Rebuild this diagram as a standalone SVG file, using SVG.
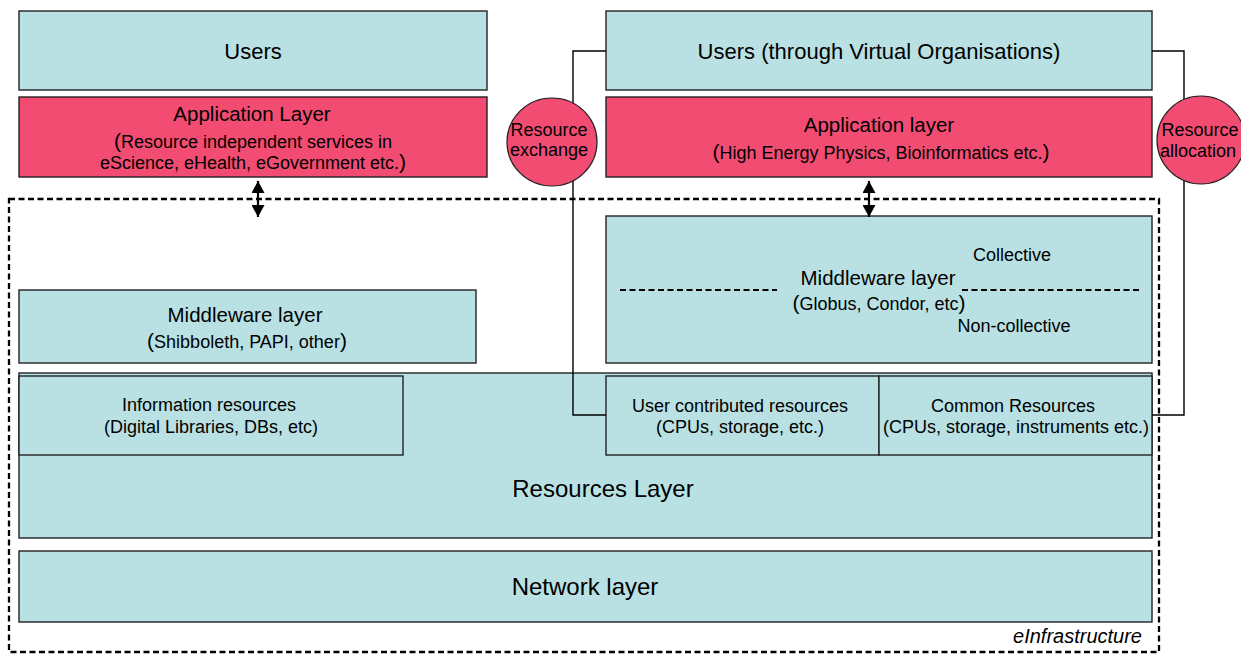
<svg xmlns="http://www.w3.org/2000/svg" width="1241" height="654" viewBox="0 0 1241 654">
  <style>
    .layer { fill: #B9E0E3; stroke: #222; stroke-width: 1.4; }
    .app { fill: #F34C73; stroke: #222; stroke-width: 1.4; }
    .bubble { fill: #F34C73; stroke: #222; stroke-width: 1.2; }
    .wire { fill: none; stroke: #000; stroke-width: 1.4; }
    .arrow { stroke: #000; stroke-width: 2.2; marker-start: url(#head); marker-end: url(#head); }
    .split { stroke: #000; stroke-width: 2.2; stroke-dasharray: 6 3.5; }
    .frame { fill: none; stroke: #000; stroke-width: 2.3; stroke-dasharray: 6 3.5; }
    text { font-family: "Liberation Sans", Arial, sans-serif; fill: #000; text-anchor: middle; }
    .t22 { font-size: 22px; }
    .t20 { font-size: 20.5px; }
    .t24 { font-size: 24px; }
    .t18 { font-size: 18px; }
    .p { font-size: 21px; }
    .tag { font-size: 20px; font-style: italic; text-anchor: end; }
  </style>
  <defs>
    <marker id="head" viewBox="0 0 10 10" refX="10" refY="5" markerWidth="12" markerHeight="13" markerUnits="userSpaceOnUse" orient="auto-start-reverse" preserveAspectRatio="none">
      <path d="M0,0 L10,5 L0,10 z" fill="#000"/>
    </marker>
  </defs>

  <!-- eInfrastructure boundary -->
  <g id="einfrastructure">
    <rect class="frame" x="9" y="199" width="1150" height="453"/>
    <text class="tag" x="1142" y="643">eInfrastructure</text>
  </g>

  <!-- left stack -->
  <g id="users">
    <rect class="layer" x="19" y="11" width="468" height="79"/>
    <text class="t22" x="253" y="59">Users</text>
  </g>
  <g id="application-layer">
    <rect class="app" x="19" y="97" width="468" height="80"/>
    <text class="t20" x="252" y="121">Application Layer</text>
    <text class="t18" x="253" y="148"><tspan class="p">(</tspan>Resource independent services in</text>
    <text class="t18" x="253" y="169">eScience, eHealth, eGovernment etc.<tspan class="p">)</tspan></text>
  </g>
  <g id="middleware-left">
    <rect class="layer" x="19" y="290" width="457" height="73"/>
    <text class="t20" x="245" y="322">Middleware layer</text>
    <text class="t18" x="247" y="348"><tspan class="p">(</tspan>Shibboleth, PAPI, other<tspan class="p">)</tspan></text>
  </g>

  <!-- right stack -->
  <g id="users-vo">
    <rect class="layer" x="606" y="11" width="546" height="79"/>
    <text class="t22" x="879" y="59">Users (through Virtual Organisations)</text>
  </g>
  <g id="application-layer-grid">
    <rect class="app" x="606" y="97" width="546" height="80"/>
    <text class="t20" x="879" y="132">Application layer</text>
    <text class="t18" x="881" y="159"><tspan class="p">(</tspan>High Energy Physics, Bioinformatics etc.<tspan class="p">)</tspan></text>
  </g>
  <g id="middleware-grid">
    <rect class="layer" x="606" y="216" width="546" height="147"/>
    <line class="split" x1="620" y1="290" x2="777" y2="290"/>
    <line class="split" x1="962" y1="290" x2="1140" y2="290"/>
    <text class="t20" x="878" y="285">Middleware layer</text>
    <text class="t18" x="879" y="310"><tspan class="p">(</tspan>Globus, Condor, etc<tspan class="p">)</tspan></text>
    <text class="t18" x="1012" y="261">Collective</text>
    <text class="t18" x="1014" y="332">Non-collective</text>
  </g>

  <!-- shared lower layers -->
  <g id="resources-layer">
    <rect class="layer" x="19" y="373" width="1133" height="165"/>
    <text class="t24" x="603" y="497">Resources Layer</text>
  </g>
  <g id="information-resources">
    <rect class="layer" x="19" y="376" width="384" height="79"/>
    <text class="t18" x="209" y="411">Information resources</text>
    <text class="t18" x="211" y="433">(Digital Libraries, DBs, etc)</text>
  </g>
  <g id="user-contributed">
    <rect class="layer" x="606" y="376" width="273" height="79"/>
    <text class="t18" x="740" y="412">User contributed resources</text>
    <text class="t18" x="740" y="433">(CPUs, storage, etc.)</text>
  </g>
  <g id="common-resources">
    <rect class="layer" x="879" y="376" width="273" height="79"/>
    <text class="t18" x="1013" y="412">Common Resources</text>
    <text class="t18" x="1016" y="433">(CPUs, storage, instruments etc.)</text>
  </g>
  <g id="network-layer">
    <rect class="layer" x="19" y="551" width="1133" height="71"/>
    <text class="t24" x="585" y="595">Network layer</text>
  </g>

  <!-- connectors -->
  <g id="connectors">
    <polyline class="wire" points="606,51 573,51 573,415 606,415"/>
    <polyline class="wire" points="1152,51 1184,51 1184,415 1152,415"/>
    <line class="arrow" x1="258" y1="181" x2="258" y2="217"/>
    <line class="arrow" x1="869" y1="181" x2="869" y2="217"/>
  </g>

  <!-- exchange / allocation bubbles -->
  <g id="resource-exchange">
    <ellipse class="bubble" cx="552" cy="142" rx="45" ry="44"/>
    <text class="t18" x="549" y="136">Resource</text>
    <text class="t18" x="549" y="156">exchange</text>
  </g>
  <g id="resource-allocation">
    <ellipse class="bubble" cx="1201" cy="140" rx="44" ry="44"/>
    <text class="t18" x="1200" y="136">Resource</text>
    <text class="t18" x="1198" y="157">allocation</text>
  </g>
</svg>
